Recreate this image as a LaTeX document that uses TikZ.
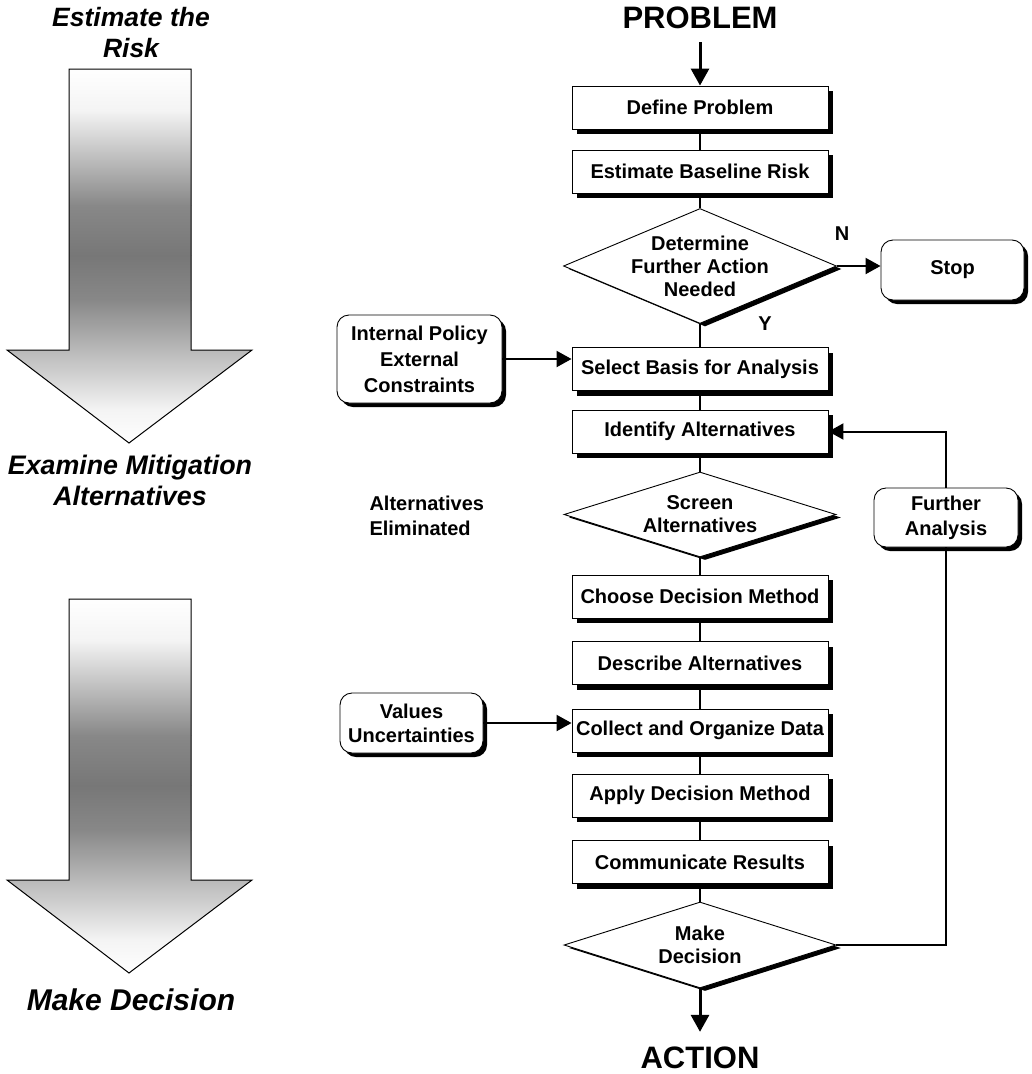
\documentclass[tikz,border=0pt]{standalone}
\usepackage{fontspec}
\setmainfont{Liberation Sans}
\usetikzlibrary{shapes.geometric,shadows,arrows.meta}
\definecolor{ga}{HTML}{F4F4F4}
\definecolor{gb}{HTML}{888888}
\definecolor{gc}{HTML}{777777}
\begin{document}
\begin{tikzpicture}[x=1pt,y=-1pt,
  every node/.style={font=\bfseries\fontsize{20}{23}\selectfont},
  stepbox/.style={draw, fill=white, line width=0.9pt, minimum width=256pt, minimum height=43pt, inner sep=0pt,
    drop shadow={shadow xshift=5pt, shadow yshift=-5pt, fill=black, opacity=1}},
  dia/.style={diamond, draw, fill=white, line width=0.9pt, inner sep=0pt,
    drop shadow={shadow xshift=5pt, shadow yshift=-3pt, fill=black, opacity=1}},
  rbox/.style={draw, fill=white, rounded corners=12pt, line width=0.9pt, align=center, inner sep=0pt,
    drop shadow={shadow xshift=4pt, shadow yshift=-4pt, fill=black, opacity=1}},
  conn/.style={line width=2pt},
  arr/.style={conn, -{Triangle[length=15pt,width=16pt]}},
  bigarr/.style={line width=3pt, -{Triangle[length=17pt,width=18pt]}},
  ttl/.style={align=center, font=\bfseries\itshape\fontsize{#1}{1.15\dimexpr#1pt\relax}\selectfont}
]
\useasboundingbox (0,0) rectangle (1032,1074);

% ---- big gradient arrows ----
\foreach \o in {0,530} {
  \begin{scope}[shift={(0,\o)}]
    \begin{scope}
      \clip (69,69) -- (191,69) -- (191,350) -- (252,350) -- (129,443) -- (7,350) -- (69,350) -- cycle;
      \shade[top color=white, bottom color=ga] (0,68) rectangle (260,110.5);
      \shade[top color=ga, bottom color=gb] (0,110) rectangle (260,205.5);
      \shade[top color=gb, bottom color=gc] (0,205) rectangle (260,255.5);
      \shade[top color=gc, bottom color=gb] (0,255) rectangle (260,300.5);
      \shade[top color=gb, bottom color=ga] (0,300) rectangle (260,410.5);
      \shade[top color=ga, bottom color=white] (0,410) rectangle (260,445);
    \end{scope}
    \draw[line width=1pt, line join=miter] (69,69) -- (191,69) -- (191,350) -- (252,350) -- (129,443) -- (7,350) -- (69,350) -- cycle;
  \end{scope}
}

% ---- left titles ----
\node[ttl=26.5] (t1) at (131,32.5) {Estimate the\\Risk};
\node[ttl=26.8] (t2) at (130,480.5) {Examine Mitigation\\Alternatives};
\node[ttl=30] (t3) at (131,1000) {Make Decision};

% ---- main column ----
\node[font=\bfseries\fontsize{31}{34}\selectfont, inner sep=13pt] (prob) at (700,18) {PROBLEM};
\node[stepbox] (def) at (700,107.5) {Define Problem};
\node[stepbox] (est) at (700,171.5) {Estimate Baseline Risk};
\node[dia, minimum width=273pt, minimum height=115pt] (det) at (700,266) {};
\node[align=center] (dett) at (det.center) {Determine\\Further Action\\Needed};
\node[stepbox] (sel) at (700,369) {Select Basis for Analysis};
\node[stepbox] (ident) at (700,431.5) {Identify Alternatives};
\node[dia, minimum width=272pt, minimum height=85pt] (scr) at (700,514.5) {};
\node[align=center] (scrt) at (scr.center) {Screen\\Alternatives};
\node[stepbox] (choose) at (700,596.5) {Choose Decision Method};
\node[stepbox] (desc) at (700,663) {Describe Alternatives};
\node[stepbox] (coll) at (700,730.5) {Collect and Organize Data};
\node[stepbox] (apply) at (700,795.5) {Apply Decision Method};
\node[stepbox] (comm) at (700,862) {Communicate Results};
\node[dia, minimum width=272pt, minimum height=86pt] (md) at (700,945) {};
\node[align=center] (mdt) at (md.center) {Make\\Decision};
\node[font=\bfseries\fontsize{31}{34}\selectfont, inner sep=15pt] (act) at (700,1058) {ACTION};

% ---- side boxes ----
\node[rbox, minimum width=143pt, minimum height=60pt] (stop) at (952.5,270) {Stop};
\node[rbox, minimum width=165pt, minimum height=88pt, font=\bfseries\fontsize{20}{26}\selectfont] (ip) at (419.5,359) {Internal Policy\\External\\Constraints};
\node[rbox, minimum width=143pt, minimum height=60pt, font=\bfseries\fontsize{20}{24}\selectfont] (val) at (411.5,723) {Values\\Uncertainties};
\node[rbox, minimum width=144pt, minimum height=59pt, font=\bfseries\fontsize{20}{25}\selectfont] (fa) at (946,517.5) {Further\\Analysis};

% ---- labels ----
\node (nlab) at (842,234) {N};
\node (ylab) at (765,324) {Y};
\node[align=left, anchor=west, font=\bfseries\fontsize{20}{25}\selectfont] (ae) at (366,515.5) {Alternatives\\Eliminated};

% ---- connectors ----
\draw[bigarr] (prob.south) -- (def.north);
\draw[conn] (def.south) -- (est.north);
\draw[conn] (est.south) -- (det.north);
\draw[conn] (det.south) -- (sel.north);
\draw[arr] (det.east) -- (det.east -| stop.west);
\draw[arr] (ip.east) -- (ip.east -| sel.west);
\draw[conn] (sel.south) -- (ident.north);
\draw[conn] (ident.south) -- (scr.north);
\draw[conn] (scr.south) -- (choose.north);
\draw[conn] (choose.south) -- (desc.north);
\draw[conn] (desc.south) -- (coll.north);
\draw[arr] (val.east) -- (val.east -| coll.west);
\draw[conn] (coll.south) -- (apply.north);
\draw[conn] (apply.south) -- (comm.north);
\draw[conn] (comm.south) -- (md.north);
\draw[bigarr] (md.south) -- (act.north);
\draw[conn] (md.east) -| (fa.south);
\draw[arr] (fa.north) |- (ident.east);
\end{tikzpicture}
\end{document}
